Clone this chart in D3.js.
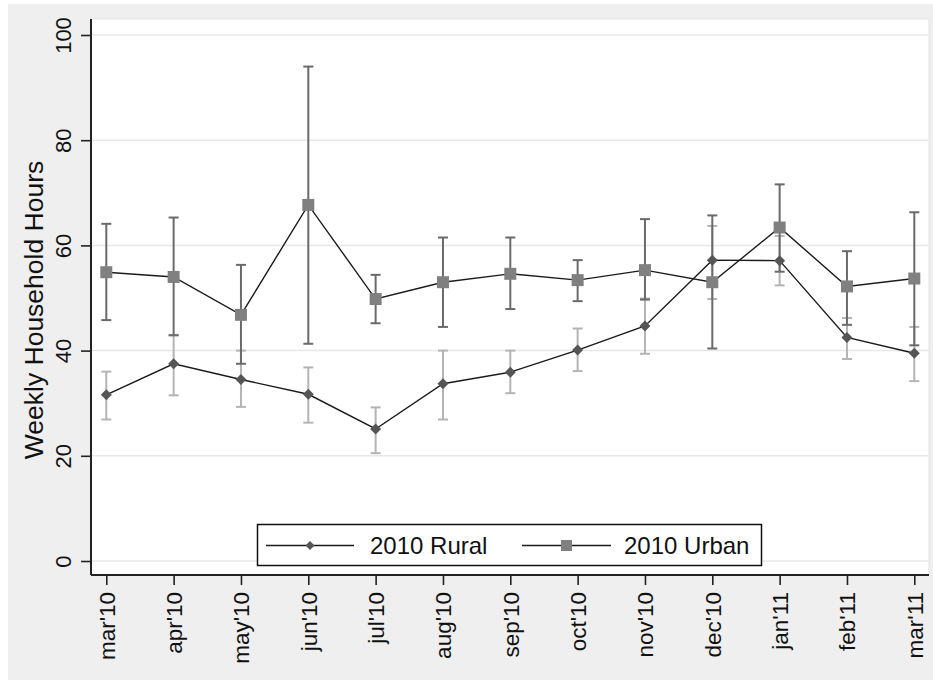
<!DOCTYPE html>
<html>
<head>
<meta charset="utf-8">
<script src="https://cdn.jsdelivr.net/npm/d3@7"></script>
<style>
  body { margin: 0; background: #fff; }
  text { font-family: Arial, "Liberation Sans", sans-serif; fill: #111; }
</style>
</head>
<body>
<div id="chart"></div>
<script>
// months on the x axis
var months = ["mar'10", "apr'10", "may'10", "jun'10", "jul'10", "aug'10", "sep'10",
              "oct'10", "nov'10", "dec'10", "jan'11", "feb'11", "mar'11"];

// rural: mean and interval ends
var ruralMean = [31.6, 37.5, 34.5, 31.7, 25.1, 33.7, 35.9, 40.1, 44.7, 57.2, 57.1, 42.5, 39.5];
var ruralHigh = [36.0, 43.0, 40.0, 36.8, 29.2, 40.0, 40.0, 44.2, 49.9, 63.7, 61.8, 46.2, 44.5];
var ruralLow  = [26.9, 31.5, 29.3, 26.3, 20.5, 26.9, 31.9, 36.1, 39.4, 49.8, 52.4, 38.4, 34.2];

// urban: mean and interval ends
var urbanMean = [54.9, 54.0, 46.8, 67.7, 49.8, 53.0, 54.6, 53.4, 55.3, 53.0, 63.4, 52.2, 53.7];
var urbanHigh = [64.1, 65.3, 56.3, 94.0, 54.4, 61.5, 61.5, 57.2, 65.0, 65.7, 71.6, 58.9, 66.3];
var urbanLow  = [45.8, 42.9, 37.5, 41.3, 45.2, 44.5, 47.9, 49.4, 49.7, 40.4, 55.0, 44.9, 41.0];

var yTicks = [0, 20, 40, 60, 80, 100];

var W = 933, H = 681;
var plot = { left: 91, top: 19, right: 929, bottom: 575 };

var svg = d3.select("#chart").append("svg")
    .attr("width", W)
    .attr("height", H);

// grey outer background and white plot region
svg.append("rect")
    .attr("x", 8).attr("y", 4)
    .attr("width", W - 8).attr("height", 676)
    .attr("fill", "#efefef");
svg.append("rect")
    .attr("x", plot.left).attr("y", plot.top)
    .attr("width", plot.right - plot.left).attr("height", plot.bottom - plot.top)
    .attr("fill", "#fff")
    .attr("stroke", "#e4e4e4")
    .attr("stroke-width", 1);

var x = d3.scalePoint()
    .domain(months)
    .range([106.3, 914.3]);

var y = d3.scaleLinear()
    .domain([0, 100])
    .range([561, 35]);

// grid lines
svg.append("g")
    .selectAll("line")
    .data(yTicks)
    .enter()
    .append("line")
    .attr("x1", plot.left).attr("x2", plot.right)
    .attr("y1", d => y(d)).attr("y2", d => y(d))
    .attr("stroke", "#e8e8e8")
    .attr("stroke-width", 1.5);

// y axis
var yAxis = svg.append("g")
    .attr("transform", "translate(" + plot.left + ",0)")
    .call(d3.axisLeft(y).tickValues(yTicks).tickSize(10).tickSizeOuter(0).tickPadding(0));
yAxis.select(".domain").remove();
yAxis.selectAll(".tick line").attr("stroke", "#222").attr("stroke-width", 1.6);
yAxis.selectAll(".tick text")
    .attr("transform", "translate(-20,0) rotate(-90)")
    .attr("x", 0).attr("dy", 0).attr("y", 0)
    .style("text-anchor", "middle")
    .style("font-size", "22px");
svg.append("line")
    .attr("x1", plot.left).attr("x2", plot.left)
    .attr("y1", plot.top).attr("y2", plot.bottom)
    .attr("stroke", "#222").attr("stroke-width", 2);

// x axis
var xAxis = svg.append("g")
    .attr("transform", "translate(0," + plot.bottom + ")")
    .call(d3.axisBottom(x).tickSize(10).tickSizeOuter(0));
xAxis.select(".domain").remove();
xAxis.selectAll(".tick line").attr("stroke", "#222").attr("stroke-width", 1.6);
xAxis.selectAll(".tick text")
    .attr("transform", "translate(8,17) rotate(-90)")
    .attr("x", 0).attr("y", 0).attr("dy", 0)
    .style("text-anchor", "end")
    .style("font-size", "22.5px");
svg.append("line")
    .attr("x1", plot.left).attr("x2", plot.right)
    .attr("y1", plot.bottom).attr("y2", plot.bottom)
    .attr("stroke", "#222").attr("stroke-width", 2);

// y axis title
svg.append("text")
    .attr("transform", "translate(43,310) rotate(-90)")
    .style("text-anchor", "middle")
    .style("font-size", "26.5px")
    .text("Weekly Household Hours");

// error bars
function errorBars(mean, low, high, colour) {
    var g = svg.append("g").attr("stroke", colour).attr("stroke-width", 2).attr("fill", "none");
    months.forEach(function (m, i) {
        var cx = x(m);
        g.append("line").attr("x1", cx).attr("x2", cx).attr("y1", y(low[i])).attr("y2", y(high[i]));
        g.append("line").attr("x1", cx - 5).attr("x2", cx + 5).attr("y1", y(low[i])).attr("y2", y(low[i]));
        g.append("line").attr("x1", cx - 5).attr("x2", cx + 5).attr("y1", y(high[i])).attr("y2", y(high[i]));
    });
}
errorBars(ruralMean, ruralLow, ruralHigh, "#b4b4b4");
errorBars(urbanMean, urbanLow, urbanHigh, "#6a6a6a");

// connecting lines
var line = d3.line()
    .x((d, i) => x(months[i]))
    .y(d => y(d));
svg.append("path").datum(ruralMean).attr("d", line)
    .attr("fill", "none").attr("stroke", "#1a1a1a").attr("stroke-width", 1.4);
svg.append("path").datum(urbanMean).attr("d", line)
    .attr("fill", "none").attr("stroke", "#1a1a1a").attr("stroke-width", 1.4);

// markers
var diamond = "M0,-5.5L5.5,0L0,5.5L-5.5,0Z";
svg.append("g").selectAll("path")
    .data(ruralMean).enter().append("path")
    .attr("d", diamond)
    .attr("transform", (d, i) => "translate(" + x(months[i]) + "," + y(d) + ")")
    .attr("fill", "#555");
svg.append("g").selectAll("rect")
    .data(urbanMean).enter().append("rect")
    .attr("x", (d, i) => x(months[i]) - 6)
    .attr("y", d => y(d) - 6)
    .attr("width", 12).attr("height", 12)
    .attr("fill", "#808080");

// legend
var legend = svg.append("g");
legend.append("rect")
    .attr("x", 257.5).attr("y", 524.5)
    .attr("width", 504).attr("height", 41)
    .attr("fill", "#fff").attr("stroke", "#111").attr("stroke-width", 1.5);
legend.append("line").attr("x1", 266).attr("x2", 354).attr("y1", 545.5).attr("y2", 545.5)
    .attr("stroke", "#1a1a1a").attr("stroke-width", 1.4);
legend.append("path").attr("d", "M0,-4.5L4.5,0L0,4.5L-4.5,0Z")
    .attr("transform", "translate(310,545.5)").attr("fill", "#555");
legend.append("text").attr("x", 370).attr("y", 554).style("font-size", "24px").text("2010 Rural");
legend.append("line").attr("x1", 522).attr("x2", 611).attr("y1", 545.5).attr("y2", 545.5)
    .attr("stroke", "#1a1a1a").attr("stroke-width", 1.4);
legend.append("rect").attr("x", 561).attr("y", 540).attr("width", 11).attr("height", 11)
    .attr("fill", "#808080");
legend.append("text").attr("x", 624).attr("y", 554).style("font-size", "24px").text("2010 Urban");
</script>
</body>
</html>
